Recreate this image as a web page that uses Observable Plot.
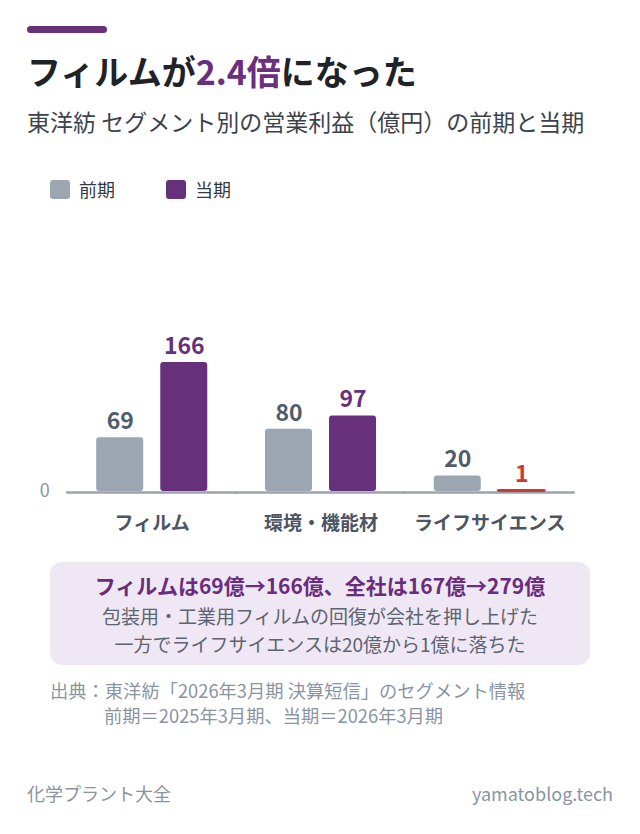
<!DOCTYPE html>
<html lang="ja">
<head>
<meta charset="utf-8">
<script src="https://cdn.jsdelivr.net/npm/d3@7"></script>
<script src="https://cdn.jsdelivr.net/npm/@observablehq/plot@0.6"></script>
<style>
  html, body { margin:0; padding:0; background:#fff; }
  body { width:640px; height:834px; position:relative; overflow:hidden;
         font-family:"Noto Sans CJK JP", "Noto Sans", sans-serif; }
  .abs { position:absolute; white-space:nowrap; }
  #accent { left:27px; top:26px; width:80px; height:7px; border-radius:4px; background:#673079; }
  #title { left:27px; top:51px; font-size:34px; line-height:40px; font-weight:700; color:#1f2328; }
  #title .hl { color:#6b2f80; }
  #subtitle { left:27px; top:106px; font-size:23px; line-height:30px; color:#3c434d; }
  .sw { position:absolute; width:20px; height:19px; border-radius:3px; }
  .lg { position:absolute; font-size:18px; line-height:20px; color:#333a44; }
  #chart { left:0; top:300px; }
  #box { left:50px; top:562px; width:540px; height:103px; border-radius:12px; background:#f0e7f4; }
  .bl { position:absolute; left:0; width:540px; text-align:center; white-space:nowrap; line-height:28px; }
  .src { position:absolute; left:50px; font-size:18.3px; line-height:25px; color:#8a94a3; white-space:nowrap; }
  .foot { position:absolute; top:781px; font-size:18px; line-height:25px; color:#8a94a3; white-space:nowrap; }
</style>
</head>
<body>
<div id="accent" class="abs"></div>
<div id="title" class="abs">フィルムが<span class="hl">2.4倍</span>になった</div>
<div id="subtitle" class="abs">東洋紡 セグメント別の営業利益（億円）の前期と当期</div>
<div id="legend"></div>
<div id="chart" class="abs"></div>
<div id="box" class="abs">
  <div class="bl" style="top:9px;font-size:21px;font-weight:700;color:#6a2c7d;">フィルムは69億→166億、全社は167億→279億</div>
  <div class="bl" style="top:40px;font-size:19px;color:#5b6470;">包装用・工業用フィルムの回復が会社を押し上げた</div>
  <div class="bl" style="top:68px;font-size:19px;color:#5b6470;">一方でライフサイエンスは20億から1億に落ちた</div>
</div>
<div class="src" style="top:678px;">出典：東洋紡「2026年3月期 決算短信」のセグメント情報</div>
<div class="src" style="top:703px;padding-left:54px;">前期＝2025年3月期、当期＝2026年3月期</div>
<div class="foot" style="left:27px;">化学プラント大全</div>
<div class="foot" style="right:27px;">yamatoblog.tech</div>
<script>
// ---- data ----
const segments = ["フィルム", "環境・機能材", "ライフサイエンス"];
const periods = ["前期", "当期"];
const prevValues = [69, 80, 20];
const currValues = [166, 97, 1];
const periodColors = ["#9ba6b1", "#66307a"];
const alertColor = "#cc3a30";

// legend
const legend = document.getElementById("legend");
const legendX = [50, 166];
periods.forEach((p, i) => {
  const s = document.createElement("div");
  s.className = "sw";
  s.style.left = legendX[i] + "px"; s.style.top = "180px";
  s.style.background = periodColors[i];
  legend.appendChild(s);
  const t = document.createElement("div");
  t.className = "lg";
  t.style.left = (legendX[i] + 29) + "px"; t.style.top = "179px";
  t.textContent = p;
  legend.appendChild(t);
});

// table
const rows = [];
segments.forEach((s, i) => {
  rows.push({segment: s, period: periods[0], value: prevValues[i], alert: false});
  rows.push({segment: s, period: periods[1], value: currValues[i], alert: currValues[i] < prevValues[i]});
});

const font = "'Noto Sans CJK JP', sans-serif";
const chart = Plot.plot({
  width: 640,
  height: 240,
  marginLeft: 66,
  marginRight: 65,
  marginTop: 51,
  marginBottom: 49,
  style: {fontFamily: font, background: "transparent", overflow: "visible"},
  fx: {domain: segments, paddingInner: 0.342, paddingOuter: 0.179, round: false, label: null},
  x: {domain: periods, paddingInner: 0.266, paddingOuter: 0, round: false, axis: null},
  y: {domain: [0, 180], axis: null},
  color: {domain: periods, range: periodColors},
  marks: [
    Plot.ruleY([0], {stroke: "#9aa3ae", strokeWidth: 2.5, dy: 1, insetLeft: -30, insetRight: -30}),
    Plot.barY(rows.filter(d => !d.alert), {fx: "segment", x: "period", y: "value", fill: "period", rx: 3}),
    Plot.barY(rows.filter(d => d.alert), {fx: "segment", x: "period", y: "value", fill: alertColor, stroke: alertColor, strokeWidth: 2.2, rx: 1.5}),
    Plot.text(rows.filter(d => d.period === periods[0]), {fx: "segment", x: "period", y: "value", text: "value", dy: -16, fontSize: 23, fontWeight: 600, fill: "#505c6b"}),
    Plot.text(rows.filter(d => d.period === periods[1] && !d.alert), {fx: "segment", x: "period", y: "value", text: "value", dy: -16, fontSize: 23, fontWeight: 600, fill: "#66307a"}),
    Plot.text(rows.filter(d => d.alert), {fx: "segment", x: "period", y: "value", text: "value", dy: -16, fontSize: 23, fontWeight: 600, fill: alertColor}),
    Plot.axisFx({anchor: "bottom", tickSize: 0, tickPadding: 25, fontSize: 19, fontWeight: 700, fill: "#4b5563", label: null}),
    Plot.axisY({ticks: [0], tickSize: 0, tickPadding: 47, fontSize: 18, fill: "#8a94a3", label: null})
  ]
});
document.getElementById("chart").appendChild(chart);
</script>
</body>
</html>
